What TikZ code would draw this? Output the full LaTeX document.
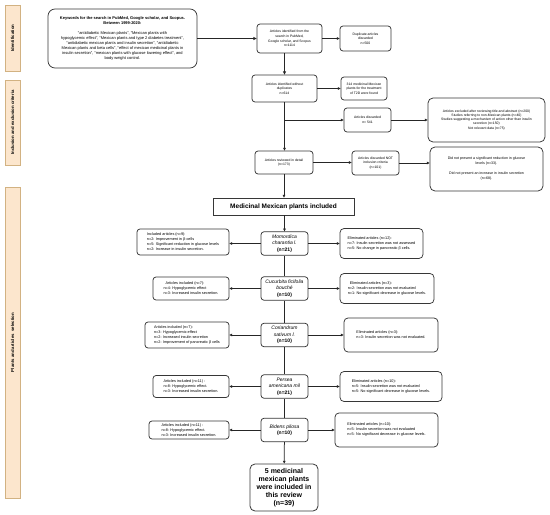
\documentclass[tikz,border=0pt]{standalone}
\usepackage{fontspec}
\setmainfont{Liberation Sans}
\usetikzlibrary{arrows.meta}
\definecolor{sidefill}{RGB}{252,230,205}
\definecolor{sidedraw}{RGB}{210,178,130}
\definecolor{boxdraw}{RGB}{55,55,55}
\tikzset{
  box/.style={draw=boxdraw, line width=0.75pt, rounded corners=3pt, inner sep=1pt, align=center, fill=white},
  sidebox/.style={draw=sidedraw, fill=sidefill, line width=0.8pt, inner sep=0pt, rotate=90,
     font=\fontsize{4.3}{5}\selectfont\bfseries},
  ftiny/.style={font=\fontsize{3.4}{4.6}\selectfont},
  fsmall/.style={font=\fontsize{3.8}{5}\selectfont},
  fkw/.style={font=\fontsize{4}{5}\selectfont},
  fplant/.style={font=\fontsize{5}{6.5}\selectfont},
  arr/.style={-{Triangle[length=2.8pt,width=2.6pt]}, line width=0.75pt, draw=black!85},
  plain/.style={line width=0.75pt, draw=black!85},
  thickarr/.style={-{Triangle[length=3.2pt,width=3pt]}, line width=1.2pt, draw=black!85},
  plantbox/.style={box, fplant, minimum width=47, minimum height=23.5},
  incbox/.style={box, fsmall, align=left, rounded corners=3pt},
  elbox/.style={box, fsmall, align=left, rounded corners=4pt}
}
\begin{document}
\begin{tikzpicture}[x=1pt,y=-1pt]
\useasboundingbox (0,0) rectangle (550,515);
\fill[white] (0,0) rectangle (550,515);

% side labels
\node[sidebox, minimum width=66, minimum height=15] (sid1) at (12.5,38) {Identification};
\node[sidebox, minimum width=85, minimum height=15] (sid2) at (12.5,122.5) {Inclusion and exclusion criteria};
\node[sidebox, minimum width=311, minimum height=15] (sid3) at (12.5,342.5) {Plants and articles \ selection};

% identification
\node[box, fkw, rounded corners=7pt, minimum width=149, minimum height=59, inner sep=0pt] (kw) at (122.5,38.5)
 {\textbf{Keywords for the search in PubMed, Google scholar, and Scopus.}\\
  \textbf{Between 1999-2020:}\\[5pt]
  “antidiabetic Mexican plants”, “Mexican plants with\\
  hypoglycemic effect”, “Mexican plants and type 2 diabetes treatment”,\\
  “antidiabetic mexican plants and insulin secretion”, “antidiabetic\\
  Mexican plants and beta cells”, “effect of mexican medicinal plants in\\
  insulin secretion”, “mexican plants with glucose lowering effect”, and\\
  body weight control.};
\node[box, ftiny, minimum width=65, minimum height=29] (ident) at (289.5,38.5)
 {Articles identified from the\\ search in PubMed,\\ Google scholar, and Scopus\\ n=1114};
\node[box, ftiny, minimum width=51, minimum height=25] (dup) at (365.5,38.5)
 {Duplicate articles\\ discarded\\ n=500};
\node[box, ftiny, minimum width=65, minimum height=27] (nodup) at (284.5,88.5)
 {Articles identified without\\ duplicates\\ n=614};
\node[box, ftiny, minimum width=46, minimum height=23] (t2d) at (364,88.5)
 {314 medicinal Mexican\\ plants for the treatment\\ of T2D were found};

% inclusion / exclusion
\node[box, ftiny, minimum width=47, minimum height=24] (disc) at (367.5,120)
 {Articles discarded\\ n= 541};
\node[box, ftiny, rounded corners=5pt, minimum width=117, minimum height=44, font=\fontsize{3.4}{4.1}\selectfont] (excl) at (486.5,120)
 {Articles excluded after reviewing title and abstract (n=200)\\
  Studies referring to non-Mexican plants (n=40)\\
  Studies suggesting a mechanism of action other than insulin\\
  secretion (n=150)\\
  Not relevant data (n=75)};
\node[box, ftiny, minimum width=58, minimum height=23] (rev) at (284,162.5)
 {Articles reviewed in detail\\ (n=173)};
\node[box, ftiny, minimum width=47, minimum height=24] (notinc) at (375.5,163)
 {Articles discarded NOT\\ inclusion criteria\\ (n=101)};
\node[box, rounded corners=5pt, minimum width=113, minimum height=44, font=\fontsize{3.6}{5}\selectfont] (notpres) at (486.5,169)
 {Did not present a significant reduction in glucose\\ levels (n=33).\\[5pt]
  Did not present an increase in insulin secretion\\ (n=68).};

% medicinal
\node[draw=boxdraw, line width=0.8pt, fill=white, inner sep=0pt, minimum width=141, minimum height=17,
      font=\fontsize{6.5}{7.5}\selectfont\bfseries] (med) at (283.5,206.5) {Medicinal Mexican plants included};

% plants
\node[plantbox] (mom) at (284.5,243.5) {\textit{Momordica}\\ \textit{charantia l.}\\ \textbf{(n=21)}};
\node[plantbox] (cuc) at (284.5,288.5) {\textit{Cucurbita ficifolia}\\ \textit{bouché}\\ \textbf{(n=10)}};
\node[plantbox] (cor) at (284.5,335) {\textit{Coriandrum}\\ \textit{sativum l.}\\ \textbf{(n=10)}};
\node[plantbox] (per) at (284.5,386.5) {\textit{Persea}\\ \textit{americana mil}\\ \textbf{(n=21)}};
\node[plantbox] (bid) at (284.5,430) {\textit{Bidens pilosa}\\ \textbf{(n=10)}};

% included boxes
\node[incbox, minimum width=92, minimum height=26] (inc1) at (183,242)
 {Included articles (n=9):\\ n=2: Improvement in β-cells\\ n=5: Significant reduction in glucose levels\\ n=2: Increase in insulin secretion.};
\node[incbox, minimum width=76, minimum height=23] (inc2) at (191,288.5)
 {\ \ Articles included (n=7):\\ n=4: Hypoglycemic effect\\ n=3: Increased insulin secretion.};
\node[incbox, minimum width=84, minimum height=26] (inc3) at (187,335)
 {Articles included (n=7):\\ n=3: Hypoglycemic effect\\ n=2: Increased insulin secretion\\ n=2: Improvement of pancreatic β cells};
\node[incbox, minimum width=76, minimum height=22] (inc4) at (191,386.5)
 {Articles included (n=11) :\\ n=8: Hypoglycemic effect.\\ n=3: Increased insulin secretion.};
\node[incbox, minimum width=80, minimum height=18] (inc5) at (189,430)
 {Articles included (n=11) :\\ n=8: Hypoglycemic effect.\\ n=3: Increased insulin secretion.};

% eliminated boxes
\node[elbox, minimum width=83, minimum height=30] (el1) at (381.5,243.5)
 {Eliminated articles (n=12):\\ n=7: Insulin secretion was not assessed\\ n=5: No change in pancreatic β cells.};
\node[elbox, minimum width=94, minimum height=30] (el2) at (387,288.5)
 {\ \ Eliminated articles (n=3):\\ n=2: Insulin secretion was not evaluated\\ n=1: No significant decrease in glucose levels.};
\node[elbox, minimum width=94, minimum height=34] (el3) at (391,335)
 {Eliminated articles (n=3):\\ n=3: Insulin secretion was not evaluated.};
\node[elbox, minimum width=102, minimum height=30] (el4) at (391,386.5)
 {Eliminated articles (n=10):\\ n=5: Insulin secretion was not evaluated\\ n=5: No significant decrease in glucose levels.};
\node[elbox, minimum width=103, minimum height=34] (el5) at (386.5,430)
 {Eliminated articles (n=10):\\ n=5: Insulin secretion was not evaluated\\ n=5: No significant decrease in glucose levels.};

% final
\node[box, rounded corners=5pt, minimum width=68, minimum height=47, line width=0.8pt,
      font=\fontsize{7}{8}\selectfont\bfseries] (final) at (284,487.5)
 {5 medicinal\\ mexican plants\\ were included in\\ this review\\ (n=39)};

% connectors
\draw[thickarr] (kw) -- (ident);
\draw[arr] (ident) -- (dup);
\draw[thickarr] (nodup.north |- ident.south) -- (nodup.north);
\draw[arr] (nodup) -- (t2d);
\draw[arr] (nodup.south) -- (nodup.south |- rev.north);
\coordinate (b1) at (nodup.south |- disc.west);
\draw[arr] (b1) -- (disc.west);
\draw[arr] (disc) -- (excl);
\draw[arr] (rev.east) -- (rev.east -| notinc.west);
\draw[arr] (notinc.east) -- (notinc.east -| notpres.west);
\draw[arr] (rev.south) -- (rev.south |- med.north);
\draw[arr] (med.south -| mom.north) -- (mom.north);
\draw[plain] (mom) -- (cuc);
\draw[plain] (cuc) -- (cor);
\draw[plain] (cor) -- (per);
\draw[plain] (per) -- (bid);
\draw[arr] (bid) -- (final);
\foreach \p/\i/\e in {mom/inc1/el1, cuc/inc2/el2, cor/inc3/el3, per/inc4/el4, bid/inc5/el5}{
  \draw[arr] (\p.west) -- (\p.west -| \i.east);
  \draw[arr] (\p.east) -- (\p.east -| \e.west);
}
\end{tikzpicture}
\end{document}
